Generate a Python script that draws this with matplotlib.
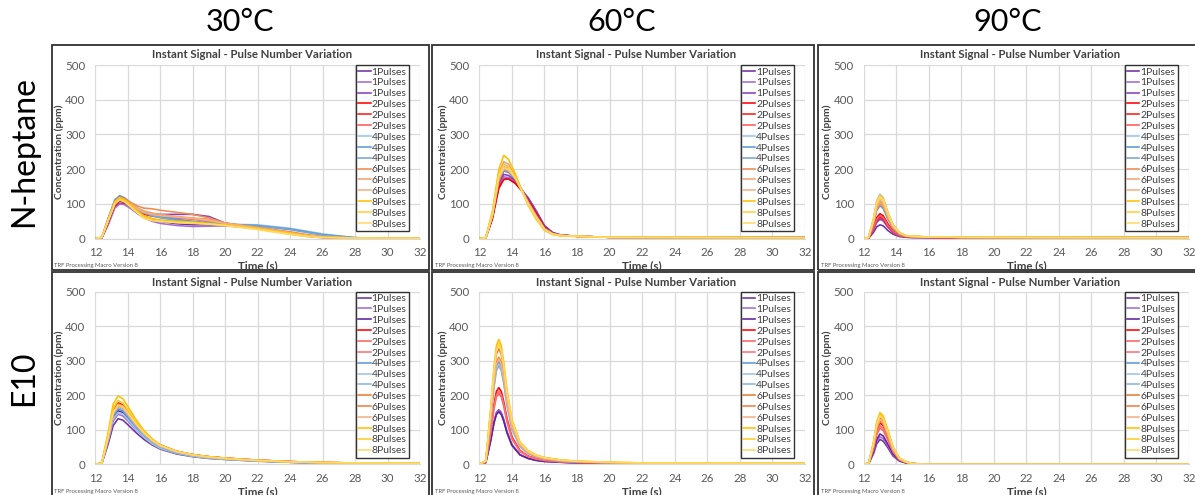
import matplotlib.pyplot as plt
from matplotlib.patches import Rectangle

plt.rcParams['font.family'] = ['Lato', 'DejaVu Sans']

# ---- data ----------------------------------------------------------------
temps = ['30°C', '60°C', '90°C']
fuels = ['N-heptane', 'E10']
labels = ['1Pulses'] * 3 + ['2Pulses'] * 3 + ['4Pulses'] * 3 + ['6Pulses'] * 3 + ['8Pulses'] * 3
xticks = [12, 14, 16, 18, 20, 22, 24, 26, 28, 30, 32]
yticks = [0, 100, 200, 300, 400, 500]

# N-heptane, 30°C
hep30_t = [12, 12.4, 12.8, 13.2, 13.5, 13.8, 14.2, 14.6, 15, 15.5, 16, 17, 18, 19, 20, 22, 24, 25, 26, 28, 30, 32]
hep30_y = [
    [0, 2, 45, 92, 102, 100, 88, 75, 65, 56, 50, 43, 40, 40, 38, 30, 15, 8, 4, 2, 1, 1],
    [0, 2, 40, 88, 100, 98, 86, 72, 60, 50, 44, 38, 35, 36, 37, 30, 16, 9, 5, 2, 1, 1],
    [0, 3, 50, 100, 112, 108, 95, 84, 76, 72, 70, 70, 70, 64, 45, 30, 14, 7, 3, 2, 1, 1],
    [0, 3, 50, 98, 110, 106, 94, 82, 72, 68, 65, 62, 58, 50, 42, 32, 18, 10, 5, 2, 1, 1],
    [0, 3, 48, 96, 108, 104, 92, 80, 70, 65, 62, 60, 58, 55, 45, 30, 15, 8, 4, 2, 1, 1],
    [0, 3, 52, 100, 112, 108, 96, 84, 74, 68, 64, 60, 56, 50, 42, 30, 17, 9, 5, 2, 1, 1],
    [0, 4, 58, 110, 122, 116, 100, 86, 76, 68, 62, 55, 50, 45, 42, 40, 30, 22, 14, 3, 1, 1],
    [0, 4, 60, 112, 124, 118, 102, 88, 78, 70, 64, 56, 50, 46, 42, 38, 28, 20, 12, 3, 1, 1],
    [0, 3, 55, 106, 118, 112, 97, 84, 74, 66, 60, 52, 47, 44, 40, 36, 26, 18, 10, 3, 1, 1],
    [0, 4, 58, 108, 120, 116, 104, 94, 88, 86, 82, 76, 70, 60, 45, 32, 20, 12, 6, 2, 1, 1],
    [0, 4, 56, 104, 116, 112, 100, 88, 80, 74, 70, 64, 60, 55, 45, 32, 18, 10, 5, 2, 1, 1],
    [0, 4, 54, 102, 114, 110, 98, 86, 76, 70, 66, 62, 58, 52, 44, 30, 16, 9, 5, 2, 1, 1],
    [0, 4, 56, 106, 118, 112, 96, 80, 66, 58, 54, 50, 48, 44, 40, 30, 16, 9, 4, 2, 1, 1],
    [0, 4, 54, 102, 114, 108, 92, 76, 62, 54, 50, 46, 44, 42, 38, 28, 14, 8, 4, 2, 1, 1],
    [0, 4, 52, 100, 112, 106, 90, 74, 58, 52, 50, 47, 45, 42, 38, 26, 12, 6, 3, 2, 1, 1],
]

# N-heptane, 60°C
hep60_t = [12, 12.4, 12.8, 13.2, 13.5, 13.8, 14.2, 14.6, 15, 15.5, 16, 16.5, 17, 18, 20, 32]
hep60_y = [
    [0, 3, 60, 150, 172, 172, 160, 140, 118, 80, 38, 18, 11, 7, 4, 3],
    [0, 3, 62, 155, 178, 176, 162, 140, 116, 78, 36, 17, 10, 7, 4, 3],
    [0, 3, 65, 160, 185, 182, 166, 142, 115, 76, 35, 17, 10, 7, 4, 3],
    [0, 3, 55, 145, 170, 172, 160, 138, 112, 74, 34, 16, 10, 7, 4, 3],
    [0, 3, 62, 160, 195, 192, 170, 140, 108, 68, 30, 15, 10, 7, 4, 3],
    [0, 3, 64, 165, 200, 196, 172, 140, 106, 66, 30, 15, 10, 7, 4, 3],
    [0, 3, 70, 180, 215, 208, 180, 142, 104, 62, 28, 14, 9, 7, 4, 3],
    [0, 3, 66, 170, 195, 192, 172, 140, 106, 66, 30, 15, 10, 7, 4, 3],
    [0, 3, 68, 175, 205, 200, 176, 140, 104, 64, 28, 14, 9, 7, 4, 3],
    [0, 3, 68, 178, 208, 202, 176, 140, 102, 62, 27, 14, 9, 7, 4, 3],
    [0, 3, 72, 188, 222, 214, 182, 142, 100, 60, 26, 13, 9, 7, 4, 3],
    [0, 3, 66, 172, 200, 196, 174, 140, 104, 64, 28, 14, 9, 7, 4, 3],
    [0, 3, 78, 200, 240, 228, 188, 140, 96, 56, 24, 12, 8, 6, 4, 3],
    [0, 3, 70, 184, 212, 206, 178, 140, 100, 60, 26, 13, 9, 7, 4, 3],
    [0, 3, 68, 180, 205, 200, 176, 138, 100, 62, 27, 13, 9, 7, 4, 3],
]

# N-heptane, 90°C
hep90_t = [12, 12.3, 12.6, 12.8, 13.0, 13.2, 13.5, 13.8, 14.2, 14.6, 15, 16, 18, 32]
hep90_y = [
    [0, 1, 18, 34, 40, 37, 23, 13, 6, 4, 3, 3, 3, 3],
    [0, 2, 25, 47, 55, 51, 32, 18, 8, 5, 4, 3, 3, 3],
    [0, 2, 26, 49, 58, 53, 34, 19, 8, 5, 4, 3, 3, 3],
    [0, 2, 32, 61, 72, 66, 42, 23, 10, 6, 5, 4, 3, 3],
    [0, 2, 28, 53, 62, 57, 36, 20, 9, 5, 4, 4, 3, 3],
    [0, 2, 30, 56, 66, 61, 38, 21, 9, 6, 5, 4, 3, 3],
    [0, 4, 58, 109, 128, 118, 74, 41, 18, 9, 7, 5, 4, 3],
    [0, 3, 43, 81, 95, 87, 55, 30, 13, 7, 6, 5, 4, 3],
    [0, 3, 50, 94, 110, 101, 64, 35, 15, 8, 6, 5, 4, 3],
    [0, 3, 45, 85, 100, 92, 58, 32, 14, 7, 6, 5, 4, 3],
    [0, 3, 47, 89, 105, 97, 61, 34, 15, 8, 6, 5, 4, 3],
    [0, 3, 50, 95, 112, 103, 65, 36, 16, 8, 6, 5, 4, 3],
    [0, 4, 56, 106, 125, 115, 73, 40, 18, 9, 7, 5, 4, 3],
    [0, 4, 53, 100, 118, 109, 68, 38, 17, 8, 7, 5, 4, 3],
    [0, 4, 55, 104, 122, 112, 71, 39, 17, 9, 7, 5, 4, 3],
]

# E10, 30°C
e1030_t = [12, 12.4, 12.8, 13.1, 13.4, 13.7, 14.0, 14.5, 15, 15.5, 16, 17, 18, 19, 20, 22, 24, 26, 28, 32]
e1030_y = [
    [0, 2, 60, 112, 132, 128, 115, 92, 72, 56, 44, 30, 22, 17, 14, 9, 6, 4, 3, 2],
    [0, 3, 68, 125, 145, 140, 126, 100, 78, 60, 47, 32, 24, 18, 15, 10, 6, 4, 3, 2],
    [0, 3, 72, 134, 155, 150, 134, 106, 82, 63, 49, 34, 25, 19, 15, 10, 6, 4, 3, 2],
    [0, 3, 84, 155, 178, 172, 154, 122, 94, 72, 56, 38, 28, 22, 18, 12, 8, 5, 4, 3],
    [0, 3, 80, 148, 170, 165, 148, 117, 90, 69, 54, 37, 27, 21, 17, 11, 7, 5, 4, 3],
    [0, 3, 78, 144, 165, 160, 144, 114, 88, 67, 52, 36, 26, 20, 17, 11, 7, 5, 4, 3],
    [0, 3, 75, 140, 160, 155, 138, 108, 82, 62, 48, 33, 24, 18, 15, 10, 6, 4, 3, 2],
    [0, 3, 70, 131, 150, 146, 130, 102, 78, 59, 46, 32, 23, 18, 14, 9, 6, 4, 3, 2],
    [0, 3, 78, 144, 165, 160, 142, 111, 85, 64, 50, 34, 25, 19, 15, 10, 6, 4, 3, 2],
    [0, 3, 82, 153, 175, 170, 152, 120, 92, 71, 55, 38, 28, 22, 18, 12, 8, 5, 4, 3],
    [0, 3, 80, 148, 170, 165, 148, 117, 90, 69, 54, 37, 28, 22, 18, 12, 8, 5, 4, 3],
    [0, 3, 79, 147, 168, 163, 146, 116, 89, 68, 53, 37, 27, 21, 17, 12, 8, 5, 4, 3],
    [0, 4, 95, 174, 198, 190, 168, 130, 98, 74, 56, 38, 28, 22, 17, 11, 7, 5, 4, 3],
    [0, 3, 88, 162, 185, 178, 158, 124, 94, 72, 55, 37, 27, 21, 17, 11, 7, 5, 4, 3],
    [0, 3, 81, 150, 172, 167, 150, 118, 91, 70, 54, 37, 27, 21, 17, 11, 7, 5, 4, 3],
]

# E10, 60°C
e1060_t = [12, 12.4, 12.7, 12.9, 13.05, 13.2, 13.35, 13.5, 13.7, 14.0, 14.5, 15, 15.5, 16, 17, 18, 20, 22, 32]
e1060_y = [
    [0, 5, 71, 123, 150, 158, 150, 130, 95, 57, 28, 17, 12, 9, 6, 4, 3, 2, 1],
    [0, 5, 70, 121, 147, 155, 147, 127, 93, 56, 28, 17, 12, 9, 6, 4, 3, 2, 1],
    [0, 5, 68, 119, 144, 152, 144, 125, 91, 55, 27, 17, 11, 8, 6, 4, 3, 2, 1],
    [0, 7, 100, 173, 211, 222, 211, 182, 133, 80, 40, 24, 17, 12, 8, 6, 4, 3, 2],
    [0, 6, 92, 160, 195, 205, 195, 168, 123, 74, 37, 23, 15, 11, 7, 5, 4, 3, 2],
    [0, 6, 95, 165, 201, 212, 201, 174, 127, 76, 38, 23, 16, 12, 8, 6, 4, 3, 2],
    [0, 9, 134, 232, 283, 298, 283, 244, 179, 107, 54, 33, 22, 16, 10, 7, 5, 3, 2],
    [0, 9, 130, 226, 276, 290, 276, 238, 174, 104, 52, 32, 22, 16, 10, 7, 5, 3, 2],
    [0, 9, 128, 222, 271, 285, 271, 234, 171, 103, 51, 31, 21, 16, 10, 7, 5, 3, 2],
    [0, 9, 140, 242, 295, 310, 295, 254, 186, 112, 56, 34, 23, 17, 11, 8, 5, 3, 2],
    [0, 10, 151, 261, 318, 335, 318, 275, 201, 121, 60, 37, 25, 18, 12, 8, 5, 3, 2],
    [0, 9, 137, 238, 290, 305, 290, 250, 183, 110, 55, 34, 23, 17, 11, 8, 5, 3, 2],
    [0, 11, 163, 282, 344, 362, 344, 297, 217, 130, 65, 40, 27, 20, 13, 9, 6, 4, 3],
    [0, 10, 158, 273, 333, 350, 333, 287, 210, 126, 63, 38, 26, 19, 12, 9, 6, 4, 3],
    [0, 10, 155, 269, 328, 345, 328, 283, 207, 124, 62, 38, 26, 19, 12, 9, 6, 4, 3],
]

# E10, 90°C
e1090_t = [12, 12.3, 12.6, 12.8, 13.0, 13.2, 13.5, 13.8, 14.2, 14.6, 15, 16, 32]
e1090_y = [
    [0, 1, 30, 59, 72, 67, 47, 24, 9, 4, 1, 0, 0],
    [0, 2, 34, 66, 80, 74, 52, 27, 10, 4, 1, 0, 0],
    [0, 2, 37, 72, 88, 82, 57, 30, 11, 4, 1, 0, 0],
    [0, 2, 50, 98, 120, 112, 78, 41, 14, 6, 2, 0, 0],
    [0, 2, 44, 86, 105, 98, 68, 36, 13, 5, 2, 0, 0],
    [0, 2, 47, 92, 112, 104, 73, 38, 13, 6, 2, 0, 0],
    [0, 3, 59, 115, 140, 130, 91, 48, 17, 7, 2, 0, 0],
    [0, 3, 61, 119, 145, 135, 94, 49, 17, 7, 2, 0, 0],
    [0, 3, 55, 107, 130, 121, 85, 44, 16, 6, 2, 0, 0],
    [0, 3, 53, 103, 125, 116, 81, 43, 15, 6, 2, 0, 0],
    [0, 3, 57, 111, 135, 126, 88, 46, 16, 7, 2, 0, 0],
    [0, 3, 55, 107, 130, 121, 85, 44, 16, 6, 2, 0, 0],
    [0, 3, 63, 123, 150, 140, 98, 51, 18, 8, 2, 0, 0],
    [0, 3, 61, 119, 145, 135, 94, 49, 17, 7, 2, 0, 0],
    [0, 3, 59, 115, 140, 130, 91, 48, 17, 7, 2, 0, 0],
]

hep_colors = ['#7030A0', '#A070D0', '#8540C0',
              '#FF0000', '#FF1A1A', '#FF5A5A',
              '#9DC3E6', '#5B9BD5', '#74A6DA',
              '#F08A50', '#F4A070', '#F4B183',
              '#FFC000', '#FFD040', '#FFD966']
e10_colors = ['#7030A0', '#A070D0', '#6020A0',
              '#FF0000', '#FF6060', '#FF7070',
              '#5B9BD5', '#9DC3E6', '#8AB4E0',
              '#ED7D31', '#F08040', '#F4B183',
              '#FFC000', '#FFCA28', '#FFD966']

panels = [[(hep30_t, hep30_y), (hep60_t, hep60_y), (hep90_t, hep90_y)],
          [(e1030_t, e1030_y), (e1060_t, e1060_y), (e1090_t, e1090_y)]]
row_colors = [hep_colors, e10_colors]

# ---- layout (pixels) -----------------------------------------------------
W, H = 1195, 495
fig = plt.figure(figsize=(W / 100, H / 100), dpi=100)

def fx(x):
    return x / W

def fy(y):
    return 1 - y / H

ax_left = [95.3, 479.3, 863.7]
ax_right = [420, 805, 1189]
ax_top = [65, 291.7]
ax_bot = [238.7, 464.3]
box_x = [(51.5, 429), (432, 813.5), (818, 1197)]
box_y = [(45, 270), (272, 498)]
head_x = [240, 622, 1008]

txt = '#404040'
tick_col = '#595959'

for c, t in enumerate(temps):
    fig.text(fx(head_x[c]), fy(22), t, fontsize=22, ha='center', va='center', color='black')
for r, f in enumerate(fuels):
    yc = (ax_top[r] + ax_bot[r]) / 2
    fig.text(fx(24), fy(yc), f, fontsize=23, rotation=90, ha='center', va='center', color='black')

for r in range(2):
    for c in range(3):
        # chart box
        x0, x1 = box_x[c]
        y0, y1 = box_y[r]
        fig.patches.append(Rectangle((fx(x0), fy(y1)), fx(x1 - x0), (y1 - y0) / H,
                                     transform=fig.transFigure, fill=False,
                                     edgecolor='#303030', lw=1.3, zorder=0))

        ax = fig.add_axes([fx(ax_left[c]), fy(ax_bot[r]),
                           fx(ax_right[c] - ax_left[c]), (ax_bot[r] - ax_top[r]) / H])
        t, ys = panels[r][c]
        for y, col, lab in zip(ys, row_colors[r], labels):
            ax.plot(t, y, color=col, lw=1.15, label=lab)

        ax.set_xlim(12, 32)
        ax.set_ylim(0, 500)
        ax.set_xticks(xticks)
        ax.set_yticks(yticks)
        ax.grid(True, color='#D9D9D9', lw=0.9)
        ax.set_axisbelow(True)
        for s in ['top', 'right', 'left']:
            ax.spines[s].set_visible(False)
        ax.spines['bottom'].set_color('#D9D9D9')
        ax.tick_params(length=0, labelsize=8.3, colors=tick_col)
        ax.tick_params(axis='y', pad=7)
        ax.tick_params(axis='x', pad=6)

        leg = ax.legend(loc='upper left', bbox_to_anchor=(0.802, 1.0), borderaxespad=0,
                        fontsize=7.5, frameon=True, fancybox=False, handlelength=1.2,
                        handletextpad=0.1, labelspacing=0.15, borderpad=0.22)
        leg.get_frame().set_edgecolor('black')
        leg.get_frame().set_linewidth(1.0)
        for tx in leg.get_texts():
            tx.set_color(txt)

        mid = (ax_left[c] + ax_right[c]) / 2
        fig.text(fx(mid - 6), fy(box_y[r][0] + 10), 'Instant Signal - Pulse Number Variation',
                 fontsize=8.2, fontweight='bold', ha='center', va='center', color=txt)
        fig.text(fx(ax_left[c] - 36), fy((ax_top[r] + ax_bot[r]) / 2), 'Concentration (ppm)',
                 fontsize=7.4, fontweight='bold', rotation=90, ha='center', va='center', color=txt)
        fig.text(fx(mid), fy(ax_bot[r] + 27), 'Time (s)',
                 fontsize=8.3, fontweight='bold', ha='center', va='center', color=txt)
        fig.text(fx(box_x[c][0] + 3), fy(ax_bot[r] + 27), 'TRF Processing Macro Version 8',
                 fontsize=4.2, ha='left', va='center', color=tick_col)

fig.savefig('out.png', dpi=100)
